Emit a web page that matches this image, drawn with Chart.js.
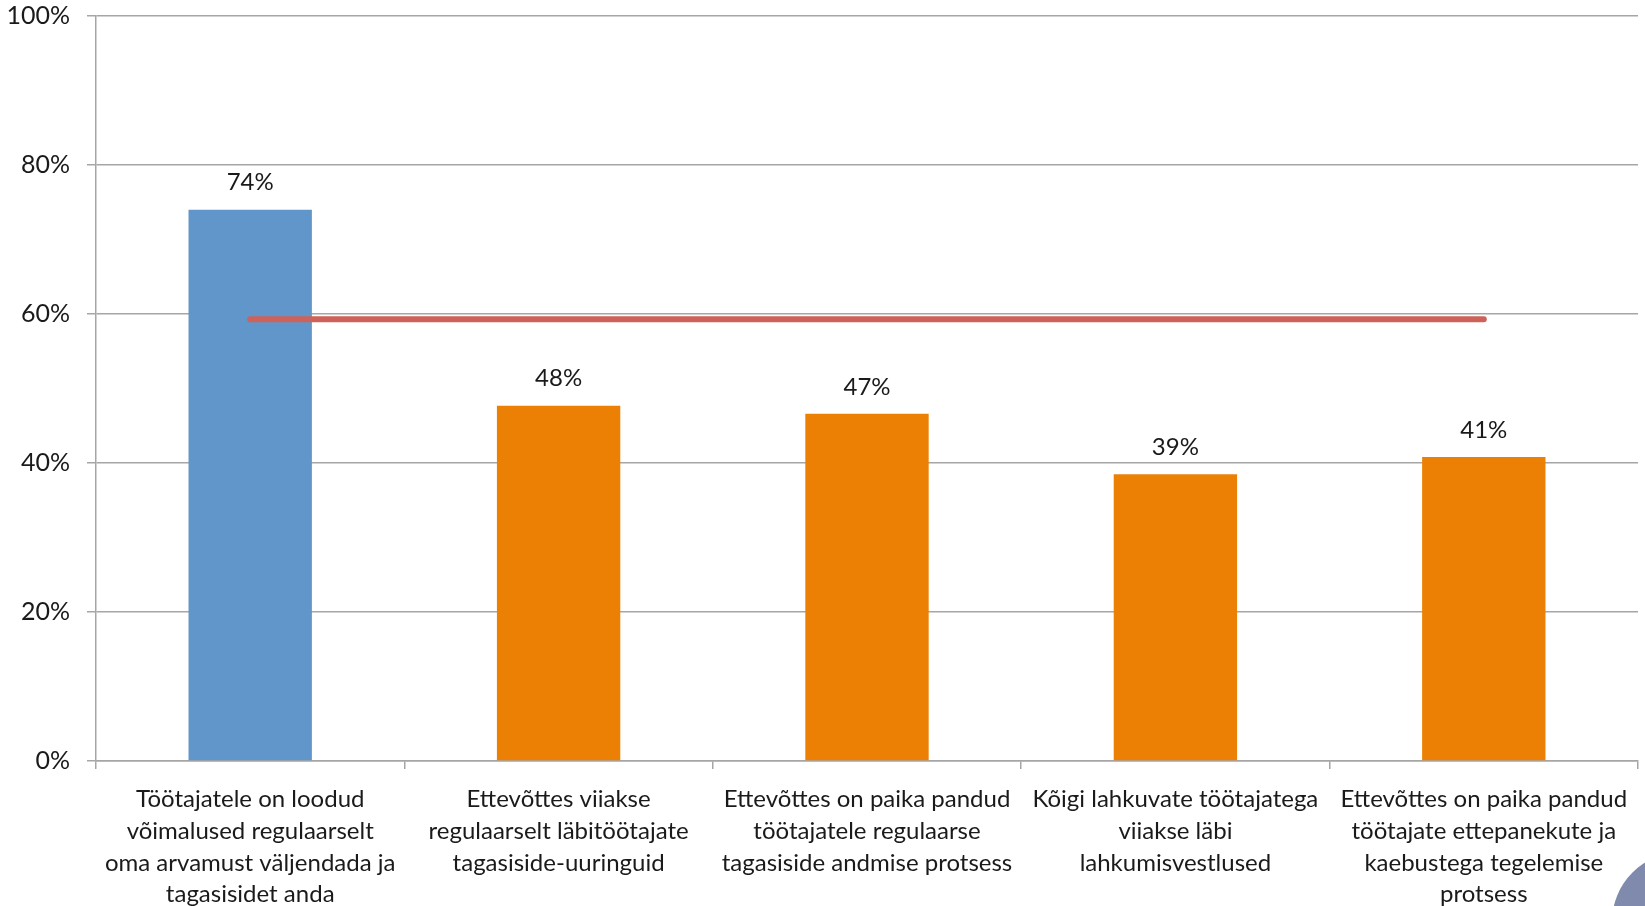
<!DOCTYPE html>
<html>
<head>
<meta charset="utf-8">
<script src="https://cdn.jsdelivr.net/npm/chart.js@4.4.1/dist/chart.umd.min.js"></script>
<style>
  html, body { margin: 0; padding: 0; background: #fff; overflow: hidden; }
  #wrap { position: relative; width: 1645px; height: 906px; }
  #corner {
    position: absolute; left: 1612px; top: 852px;
    width: 140px; height: 140px; border-radius: 50%;
    background: #7f8aad;
  }
</style>
</head>
<body>
<div id="wrap">
  <canvas id="chart" width="1645" height="906"></canvas>
  <div id="corner"></div>
</div>
<script>
// Categories (multi-line, as broken in the original)
const categories = [
    ['Töötajatele on loodud', 'võimalused regulaarselt', 'oma arvamust väljendada ja', 'tagasisidet anda'],
    ['Ettevõttes viiakse', 'regulaarselt läbitöötajate', 'tagasiside-uuringuid'],
    ['Ettevõttes on paika pandud', 'töötajatele regulaarse', 'tagasiside andmise protsess'],
    ['Kõigi lahkuvate töötajatega', 'viiakse läbi', 'lahkumisvestlused'],
    ['Ettevõttes on paika pandud', 'töötajate ettepanekute ja', 'kaebustega tegelemise', 'protsess']
];

// Bar values (%) and their printed labels
const barValues = [74, 47.7, 46.6, 38.5, 40.8];
const barLabels = ['74%', '48%', '47%', '39%', '41%'];
const barColors = ['#6096c9', '#ec8004', '#ec8004', '#ec8004', '#ec8004'];

// Average line (%)
const averageValues = [59.3, 59.3, 59.3, 59.3, 59.3];

// Y axis ticks
const yTicks = [0, 20, 40, 60, 80, 100];

const FONT = 'Lato, "Open Sans", sans-serif';

// Draws the percentage above each bar
const barLabelPlugin = {
    id: 'barLabels',
    afterDatasetsDraw(chart) {
        const meta = chart.getDatasetMeta(0);
        const ctx = chart.ctx;
        ctx.save();
        ctx.font = '24px ' + FONT;
        ctx.fillStyle = '#1a1a1a';
        ctx.textAlign = 'center';
        ctx.textBaseline = 'middle';
        meta.data.forEach((bar, i) => {
            ctx.fillText(barLabels[i], bar.x, bar.y - 27);
        });
        ctx.restore();
    }
};

const ctx = document.getElementById('chart').getContext('2d');

const chart = new Chart(ctx, {
    type: 'bar',
    data: {
        labels: categories,
        datasets: [
            {
                type: 'bar',
                data: barValues,
                backgroundColor: barColors,
                barPercentage: 0.8,
                categoryPercentage: 0.5,
                order: 1
            },
            {
                type: 'line',
                data: averageValues,
                borderColor: '#cd625a',
                borderWidth: 6,
                borderCapStyle: 'round',
                pointRadius: 0,
                fill: false,
                order: 0
            }
        ]
    },
    options: {
        responsive: false,
        animation: false,
        layout: {
            autoPadding: false,
            padding: { top: 16, right: 7, left: 0, bottom: 0 }
        },
        plugins: {
            legend: { display: false },
            tooltip: { enabled: false }
        },
        scales: {
            x: {
                grid: {
                    offset: true,
                    drawOnChartArea: false,
                    drawTicks: true,
                    tickLength: 8,
                    color: '#a6a6a6',
                    lineWidth: 1.5
                },
                border: { color: '#a6a6a6', width: 1.5 },
                ticks: {
                    color: '#1a1a1a',
                    font: { family: FONT, size: 24, lineHeight: 1.33 },
                    padding: 14,
                    maxRotation: 0,
                    autoSkip: false
                },
                afterFit: (s) => { s.height = 145; }
            },
            y: {
                min: 0,
                max: 100,
                afterBuildTicks: (s) => { s.ticks = yTicks.map(v => ({ value: v })); },
                grid: {
                    color: '#a6a6a6',
                    lineWidth: 1.5,
                    tickLength: 9
                },
                border: { color: '#a6a6a6', width: 1.5 },
                ticks: {
                    color: '#1a1a1a',
                    font: { family: FONT, size: 25 },
                    padding: 17,
                    callback: (v) => v + '%'
                },
                afterFit: (s) => {
                    s.width = 96;
                    s.paddingTop = 0;
                    s.paddingBottom = 0;
                }
            }
        }
    },
    plugins: [barLabelPlugin]
});
</script>
</body>
</html>
